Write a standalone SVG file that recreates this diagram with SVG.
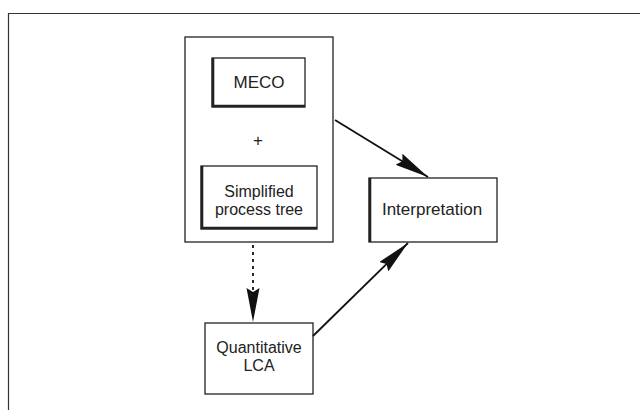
<svg xmlns="http://www.w3.org/2000/svg" width="640" height="410" viewBox="0 0 640 410">
<defs>
<style>
.box{fill:#fff;stroke:#222;stroke-width:1.3}
.sh{fill:none;stroke:#222;stroke-width:2.6}
.t{font-family:"Liberation Sans",Arial,sans-serif;font-size:17px;fill:#222;text-anchor:middle}
.s{font-size:16px}
.ln{stroke:#111;stroke-width:1.8;fill:none}
</style>
<marker id="ah" viewBox="0 0 34 13" refX="34" refY="6.5" markerWidth="34" markerHeight="13" markerUnits="userSpaceOnUse" orient="auto">
<path d="M0,0 L34,6.5 L0,13 L4,6.5 z" fill="#111"/>
</marker>
</defs>
<rect width="640" height="410" fill="#fff"/>
<path d="M8.5,410 V13.5 H640" fill="none" stroke="#333" stroke-width="1.2"/>
<g id="group">
<rect class="box" x="185" y="37" width="148" height="205"/>
</g>
<g id="meco">
<rect class="box" x="212" y="58" width="93" height="49"/>
<path class="sh" d="M213,58 V106 H305"/>
<text class="t" x="259" y="88">MECO</text>
</g>
<g id="plus">
<text class="t" x="258" y="146">+</text>
</g>
<g id="tree">
<rect class="box" x="201" y="166" width="116" height="63"/>
<path class="sh" d="M202,166 V228 H317"/>
<text class="t s" x="259" y="197">Simplified</text>
<text class="t s" x="259" y="215">process tree</text>
</g>
<g id="interp">
<rect class="box" x="369" y="178" width="128" height="64"/>
<path class="sh" d="M370,178 V242"/>
<text class="t" x="432" y="215">Interpretation</text>
</g>
<g id="lca">
<rect class="box" x="205" y="323" width="108" height="71"/>
<text class="t s" x="259" y="353">Quantitative</text>
<text class="t s" x="259" y="371">LCA</text>
</g>
<g id="connectors">
<line class="ln" x1="335" y1="120" x2="428" y2="177" marker-end="url(#ah)"/>
<line class="ln" x1="313" y1="336" x2="408" y2="243" marker-end="url(#ah)"/>
<line class="ln" x1="253" y1="245" x2="253" y2="291" stroke-dasharray="3,4" stroke-width="2.4"/>
<path d="M246.5,288 L253,322 L259.5,288 L253,292 z" fill="#111"/>
</g>
</svg>
